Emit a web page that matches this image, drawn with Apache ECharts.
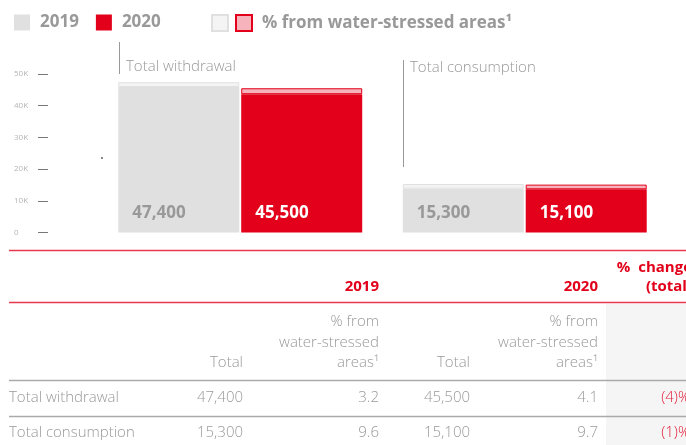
<!DOCTYPE html>
<html><head><meta charset="utf-8">
<script src="https://cdn.jsdelivr.net/npm/echarts@6/dist/echarts.min.js"></script>
<style>html,body{margin:0;padding:0;background:#fff}#c{width:686px;height:445px}</style>
</head><body><div id="c"></div>
<script>
// ---- data ----
const categories = ['Total withdrawal', 'Total consumption'];
const years = ['2019', '2020'];
const total2019 = [47400, 15300];
const total2020 = [45500, 15100];
const stressedPct2019 = [3.2, 9.6];
const stressedPct2020 = [4.1, 9.7];
const changeLabels = ['(4)%', '(1)%'];
const yTickValues = [0, 10000, 20000, 30000, 40000, 50000];
const legendStressed = '% from water-stressed areas¹';

// derived parts (stressed share of each total)
const stressed2019 = total2019.map((t, i) => t * stressedPct2019[i] / 100);
const stressed2020 = total2020.map((t, i) => t * stressedPct2020[i] / 100);
const base2019 = total2019.map((t, i) => t - stressed2019[i]);
const base2020 = total2020.map((t, i) => t - stressed2020[i]);

const FF = '"Open Sans", "Liberation Sans", sans-serif';
const fmt = n => n.toLocaleString('en-US');
const GRAY = '#e0e0e0', RED = '#e2001a', TXT = '#999';

const chart = echarts.init(document.getElementById('c'), null, {renderer: 'canvas'});

const labelStyle = (color, arr) => ({
  show: true, position: 'insideBottomLeft', distance: 0, offset: [14, -11],
  fontFamily: FF, fontSize: 17, fontWeight: 'bold', color: color,
  formatter: p => fmt(arr[p.dataIndex])
});

// ---- table + annotations (graphics) ----
const g = [];
const txt = (x, y, text, o) => g.push(Object.assign({
  type: 'text', x: x, y: y, z: 10,
  style: Object.assign({text: text, fill: TXT, fontFamily: FF, fontSize: 15, fontWeight: 300,
    textAlign: 'right', align: 'right', textVerticalAlign: 'middle', verticalAlign: 'middle'}, o || {})
}));
const line = (x1, y1, x2, y2, stroke, w) => g.push({
  type: 'line', z: 5, shape: {x1, y1, x2, y2}, style: {stroke: stroke, lineWidth: w}
});
// gray column background
g.push({type: 'rect', z: 1, shape: {x: 606, y: 304, width: 80, height: 141}, style: {fill: '#f5f5f5'}});
// annotation lines + texts
line(119.5, 42, 119.5, 74, '#999', 1);
line(403.5, 60, 403.5, 167, '#999', 1);
txt(126, 67, categories[0], {textAlign: 'left', align: 'left'});
txt(410, 68, categories[1], {textAlign: 'left', align: 'left'});
// stray dot
g.push({type: 'rect', z: 5, shape: {x: 101, y: 157, width: 2, height: 2}, style: {fill: '#888'}});
// table lines
line(9, 250.5, 686, 250.5, '#e63950', 1.5);
line(9, 302.5, 686, 302.5, '#e63950', 1.5);
line(9, 380.5, 686, 380.5, '#aaa', 1.5);
line(9, 416.5, 686, 416.5, '#aaa', 1.5);
// header
const redBold = {fill: RED, fontWeight: 'bold'};
txt(379, 287, years[0], redBold);
txt(598, 287, years[1], redBold);
txt(692, 268, '%  change', redBold);
txt(692, 287, '(total)', redBold);
[[243, 379], [470, 598]].forEach(([xt, xp]) => {
  txt(xt, 363, 'Total');
  txt(xp, 322, '% from');
  txt(xp, 343, 'water-stressed');
  txt(xp, 363, 'areas¹');
});
// rows
[398, 433].forEach((y, i) => {
  txt(9, y, categories[i], {textAlign: 'left', align: 'left'});
  txt(243, y, fmt(total2019[i]));
  txt(379, y, stressedPct2019[i].toFixed(1));
  txt(470, y, fmt(total2020[i]));
  txt(598, y, stressedPct2020[i].toFixed(1));
  txt(690, y, changeLabels[i], {fill: '#e2203a'});
});

const option = {
  animation: false,
  backgroundColor: '#fff',
  textStyle: {fontFamily: FF},
  legend: [
    {left: 14, top: 14, padding: 0, itemWidth: 16, itemHeight: 16, itemGap: 17, icon: 'rect',
     data: years,
     textStyle: {fontFamily: FF, fontSize: 17, fontWeight: 'bold', color: TXT, padding: [0, 0, 0, 5]}},
    {left: 211, top: 14, padding: 0, itemWidth: 16, itemHeight: 16, itemGap: 6, icon: 'rect',
     data: [{name: 's19', textStyle: {padding: 0}}, {name: 's20'}],
     formatter: n => n === 's20' ? legendStressed : '',
     textStyle: {fontFamily: FF, fontSize: 17, fontWeight: 'bold', color: TXT, padding: [0, 0, 0, 5]}}
  ],
  grid: {left: 98, right: 19, top: 74, bottom: 212.5, containLabel: false},
  xAxis: {type: 'category', data: categories, show: false},
  yAxis: {
    type: 'value', min: 0, max: 50000, interval: 10000, offset: 50,
    axisLine: {show: false}, splitLine: {show: false},
    axisTick: {show: true, length: 10, lineStyle: {color: '#777', width: 1}},
    axisLabel: {align: 'left', margin: 34, color: '#b5b5b5', fontSize: 8, fontFamily: FF,
      formatter: v => yTickValues.includes(v) ? (v === 0 ? '0' : (v / 1000) + 'K') : ''}
  },
  series: [
    {name: '2019', type: 'bar', stack: 's2019', data: base2019, barWidth: 121, barGap: '1.6%',
     itemStyle: {color: GRAY}, label: labelStyle('#999', total2019)},
    {name: 's19', type: 'bar', stack: 's2019', data: stressed2019, barWidth: 121, barGap: '1.6%',
     itemStyle: {color: '#f4f4f4', borderColor: GRAY, borderWidth: 1}},
    {name: '2020', type: 'bar', stack: 's2020', data: base2020, barWidth: 121, barGap: '1.6%',
     itemStyle: {color: RED}, label: labelStyle('#fff', total2020)},
    {name: 's20', type: 'bar', stack: 's2020', data: stressed2020, barWidth: 121, barGap: '1.6%',
     itemStyle: {color: '#f6b3bc', borderColor: RED, borderWidth: 1}}
  ],
  graphic: {elements: g}
};
chart.setOption(option);
</script></body></html>
